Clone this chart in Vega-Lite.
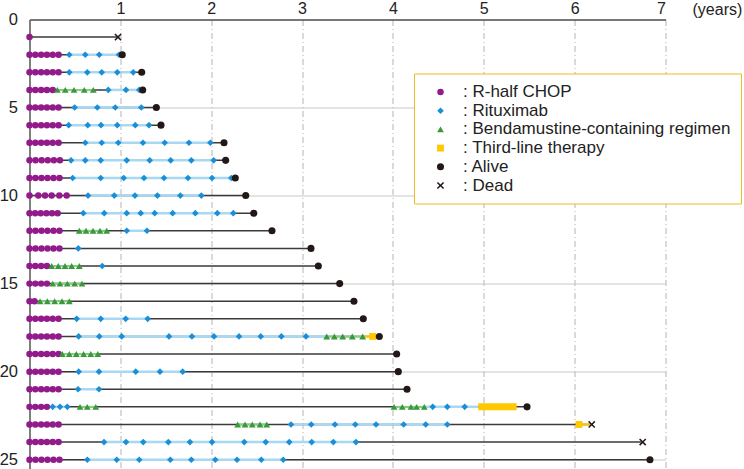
{
  "$schema": "https://vega.github.io/schema/vega-lite/v6.json",
  "width": 636,
  "height": 449,
  "autosize": "none",
  "padding": {"left": 29.5, "top": 19.5, "right": 78.5, "bottom": 0.5},
  "background": "white",
  "config": {"view": {"stroke": null}, "font": "Liberation Sans"},
  "datasets": {
    "lines": [
      {"p": 1, "t": 0, "t2": 0.974}, {"p": 2, "t": 0, "t2": 1.021}, {"p": 3, "t": 0, "t2": 1.235},
      {"p": 4, "t": 0, "t2": 1.246}, {"p": 5, "t": 0, "t2": 1.396}, {"p": 6, "t": 0, "t2": 1.447},
      {"p": 7, "t": 0, "t2": 2.141}, {"p": 8, "t": 0, "t2": 2.159}, {"p": 9, "t": 0, "t2": 2.265},
      {"p": 10, "t": 0, "t2": 2.38}, {"p": 11, "t": 0, "t2": 2.468}, {"p": 12, "t": 0, "t2": 2.669},
      {"p": 13, "t": 0, "t2": 3.098}, {"p": 14, "t": 0, "t2": 3.179}, {"p": 15, "t": 0, "t2": 3.414},
      {"p": 16, "t": 0, "t2": 3.571}, {"p": 17, "t": 0, "t2": 3.674}, {"p": 18, "t": 0, "t2": 3.85},
      {"p": 19, "t": 0, "t2": 4.041}, {"p": 20, "t": 0, "t2": 4.059}, {"p": 21, "t": 0, "t2": 4.155},
      {"p": 22, "t": 0, "t2": 5.476}, {"p": 23, "t": 0, "t2": 6.188}, {"p": 24, "t": 0, "t2": 6.749},
      {"p": 25, "t": 0, "t2": 6.829}
    ],
    "segs": [
      {"p": 2, "t": 0.438, "t2": 0.985, "kind": "rit"}, {"p": 3, "t": 0.438, "t2": 1.142, "kind": "rit"},
      {"p": 4, "t": 0.867, "t2": 1.208, "kind": "rit"}, {"p": 5, "t": 0.497, "t2": 1.23, "kind": "rit"},
      {"p": 6, "t": 0.431, "t2": 1.315, "kind": "rit"}, {"p": 7, "t": 0.614, "t2": 1.99, "kind": "rit"},
      {"p": 8, "t": 0.457, "t2": 2.027, "kind": "rit"}, {"p": 9, "t": 0.475, "t2": 2.221, "kind": "rit"},
      {"p": 10, "t": 0.644, "t2": 1.891, "kind": "rit"}, {"p": 11, "t": 0.592, "t2": 2.243, "kind": "rit"},
      {"p": 12, "t": 1.07, "t2": 1.293, "kind": "rit"}, {"p": 17, "t": 0.519, "t2": 1.301, "kind": "rit"},
      {"p": 18, "t": 0.541, "t2": 3.271, "kind": "rit"}, {"p": 20, "t": 0.541, "t2": 1.686, "kind": "rit"},
      {"p": 21, "t": 0.534, "t2": 0.765, "kind": "rit"}, {"p": 22, "t": 0.255, "t2": 0.416, "kind": "rit"},
      {"p": 22, "t": 4.345, "t2": 4.939, "kind": "rit"}, {"p": 23, "t": 2.878, "t2": 4.598, "kind": "rit"},
      {"p": 24, "t": 0.82, "t2": 3.593, "kind": "rit"}, {"p": 25, "t": 0.636, "t2": 2.793, "kind": "rit"},
      {"p": 4, "t": 0.306, "t2": 0.702, "kind": "benda"}, {"p": 12, "t": 0.548, "t2": 0.85, "kind": "benda"},
      {"p": 14, "t": 0.244, "t2": 0.548, "kind": "benda"}, {"p": 15, "t": 0.255, "t2": 0.578, "kind": "benda"},
      {"p": 16, "t": 0.116, "t2": 0.438, "kind": "benda"}, {"p": 18, "t": 3.271, "t2": 3.667, "kind": "benda"},
      {"p": 19, "t": 0.361, "t2": 0.751, "kind": "benda"}, {"p": 22, "t": 0.556, "t2": 0.729, "kind": "benda"},
      {"p": 22, "t": 4.012, "t2": 4.345, "kind": "benda"}, {"p": 23, "t": 2.291, "t2": 2.611, "kind": "benda"},
      {"p": 18, "t": 3.667, "t2": 3.85, "kind": "third"}, {"p": 23, "t": 6.048, "t2": 6.188, "kind": "third"},
      {"p": 22, "t": 4.939, "t2": 5.362, "kind": "thirdbar"}
    ],
    "pts": [
      {"p": 1, "t": 0, "event": "R-half CHOP"}, {"p": 1, "t": 0.974, "event": "Dead"},

      {"p": 2, "t": 0, "event": "R-half CHOP"}, {"p": 2, "t": 0.064, "event": "R-half CHOP"}, {"p": 2, "t": 0.128, "event": "R-half CHOP"}, {"p": 2, "t": 0.192, "event": "R-half CHOP"}, {"p": 2, "t": 0.256, "event": "R-half CHOP"}, {"p": 2, "t": 0.32, "event": "R-half CHOP"},
      {"p": 2, "t": 0.438, "event": "Rituximab"}, {"p": 2, "t": 0.614, "event": "Rituximab"}, {"p": 2, "t": 0.768, "event": "Rituximab"}, {"p": 2, "t": 0.985, "event": "Rituximab"},
      {"p": 2, "t": 1.021, "event": "Alive"},

      {"p": 3, "t": 0, "event": "R-half CHOP"}, {"p": 3, "t": 0.064, "event": "R-half CHOP"}, {"p": 3, "t": 0.128, "event": "R-half CHOP"}, {"p": 3, "t": 0.192, "event": "R-half CHOP"}, {"p": 3, "t": 0.256, "event": "R-half CHOP"}, {"p": 3, "t": 0.32, "event": "R-half CHOP"},
      {"p": 3, "t": 0.438, "event": "Rituximab"}, {"p": 3, "t": 0.636, "event": "Rituximab"}, {"p": 3, "t": 0.795, "event": "Rituximab"}, {"p": 3, "t": 0.966, "event": "Rituximab"}, {"p": 3, "t": 1.142, "event": "Rituximab"},
      {"p": 3, "t": 1.235, "event": "Alive"},

      {"p": 4, "t": 0, "event": "R-half CHOP"}, {"p": 4, "t": 0.064, "event": "R-half CHOP"}, {"p": 4, "t": 0.128, "event": "R-half CHOP"}, {"p": 4, "t": 0.192, "event": "R-half CHOP"}, {"p": 4, "t": 0.256, "event": "R-half CHOP"},
      {"p": 4, "t": 0.306, "event": "Bendamustine-containing regimen"}, {"p": 4, "t": 0.394, "event": "Bendamustine-containing regimen"}, {"p": 4, "t": 0.49, "event": "Bendamustine-containing regimen"}, {"p": 4, "t": 0.603, "event": "Bendamustine-containing regimen"}, {"p": 4, "t": 0.702, "event": "Bendamustine-containing regimen"},
      {"p": 4, "t": 0.867, "event": "Rituximab"}, {"p": 4, "t": 1.062, "event": "Rituximab"}, {"p": 4, "t": 1.208, "event": "Rituximab"},
      {"p": 4, "t": 1.246, "event": "Alive"},

      {"p": 5, "t": 0, "event": "R-half CHOP"}, {"p": 5, "t": 0.064, "event": "R-half CHOP"}, {"p": 5, "t": 0.128, "event": "R-half CHOP"}, {"p": 5, "t": 0.192, "event": "R-half CHOP"}, {"p": 5, "t": 0.256, "event": "R-half CHOP"}, {"p": 5, "t": 0.32, "event": "R-half CHOP"},
      {"p": 5, "t": 0.497, "event": "Rituximab"}, {"p": 5, "t": 0.746, "event": "Rituximab"}, {"p": 5, "t": 0.944, "event": "Rituximab"}, {"p": 5, "t": 1.23, "event": "Rituximab"},
      {"p": 5, "t": 1.396, "event": "Alive"},

      {"p": 6, "t": 0, "event": "R-half CHOP"}, {"p": 6, "t": 0.064, "event": "R-half CHOP"}, {"p": 6, "t": 0.128, "event": "R-half CHOP"}, {"p": 6, "t": 0.192, "event": "R-half CHOP"}, {"p": 6, "t": 0.256, "event": "R-half CHOP"}, {"p": 6, "t": 0.32, "event": "R-half CHOP"},
      {"p": 6, "t": 0.431, "event": "Rituximab"}, {"p": 6, "t": 0.641, "event": "Rituximab"}, {"p": 6, "t": 0.787, "event": "Rituximab"}, {"p": 6, "t": 0.966, "event": "Rituximab"}, {"p": 6, "t": 1.164, "event": "Rituximab"}, {"p": 6, "t": 1.315, "event": "Rituximab"},
      {"p": 6, "t": 1.447, "event": "Alive"},

      {"p": 7, "t": 0, "event": "R-half CHOP"}, {"p": 7, "t": 0.064, "event": "R-half CHOP"}, {"p": 7, "t": 0.128, "event": "R-half CHOP"}, {"p": 7, "t": 0.192, "event": "R-half CHOP"}, {"p": 7, "t": 0.256, "event": "R-half CHOP"}, {"p": 7, "t": 0.32, "event": "R-half CHOP"},
      {"p": 7, "t": 0.614, "event": "Rituximab"}, {"p": 7, "t": 0.795, "event": "Rituximab"}, {"p": 7, "t": 0.977, "event": "Rituximab"}, {"p": 7, "t": 1.249, "event": "Rituximab"}, {"p": 7, "t": 1.488, "event": "Rituximab"}, {"p": 7, "t": 1.755, "event": "Rituximab"}, {"p": 7, "t": 1.99, "event": "Rituximab"},
      {"p": 7, "t": 2.141, "event": "Alive"},

      {"p": 8, "t": 0, "event": "R-half CHOP"}, {"p": 8, "t": 0.067, "event": "R-half CHOP"}, {"p": 8, "t": 0.134, "event": "R-half CHOP"}, {"p": 8, "t": 0.201, "event": "R-half CHOP"}, {"p": 8, "t": 0.268, "event": "R-half CHOP"}, {"p": 8, "t": 0.335, "event": "R-half CHOP"},
      {"p": 8, "t": 0.457, "event": "Rituximab"}, {"p": 8, "t": 0.614, "event": "Rituximab"}, {"p": 8, "t": 0.784, "event": "Rituximab"}, {"p": 8, "t": 1.07, "event": "Rituximab"}, {"p": 8, "t": 1.323, "event": "Rituximab"}, {"p": 8, "t": 1.554, "event": "Rituximab"}, {"p": 8, "t": 1.781, "event": "Rituximab"}, {"p": 8, "t": 2.027, "event": "Rituximab"},
      {"p": 8, "t": 2.159, "event": "Alive"},

      {"p": 9, "t": 0, "event": "R-half CHOP"}, {"p": 9, "t": 0.066, "event": "R-half CHOP"}, {"p": 9, "t": 0.132, "event": "R-half CHOP"}, {"p": 9, "t": 0.198, "event": "R-half CHOP"}, {"p": 9, "t": 0.264, "event": "R-half CHOP"}, {"p": 9, "t": 0.33, "event": "R-half CHOP"},
      {"p": 9, "t": 0.475, "event": "Rituximab"}, {"p": 9, "t": 0.784, "event": "Rituximab"}, {"p": 9, "t": 1.037, "event": "Rituximab"}, {"p": 9, "t": 1.26, "event": "Rituximab"}, {"p": 9, "t": 1.48, "event": "Rituximab"}, {"p": 9, "t": 1.744, "event": "Rituximab"}, {"p": 9, "t": 2.009, "event": "Rituximab"}, {"p": 9, "t": 2.221, "event": "Rituximab"},
      {"p": 9, "t": 2.265, "event": "Alive"},

      {"p": 10, "t": 0, "event": "R-half CHOP"}, {"p": 10, "t": 0.097, "event": "R-half CHOP"}, {"p": 10, "t": 0.171, "event": "R-half CHOP"}, {"p": 10, "t": 0.244, "event": "R-half CHOP"}, {"p": 10, "t": 0.328, "event": "R-half CHOP"}, {"p": 10, "t": 0.409, "event": "R-half CHOP"},
      {"p": 10, "t": 0.644, "event": "Rituximab"}, {"p": 10, "t": 0.933, "event": "Rituximab"}, {"p": 10, "t": 1.161, "event": "Rituximab"}, {"p": 10, "t": 1.407, "event": "Rituximab"}, {"p": 10, "t": 1.66, "event": "Rituximab"}, {"p": 10, "t": 1.891, "event": "Rituximab"},
      {"p": 10, "t": 2.38, "event": "Alive"},

      {"p": 11, "t": 0, "event": "R-half CHOP"}, {"p": 11, "t": 0.062, "event": "R-half CHOP"}, {"p": 11, "t": 0.124, "event": "R-half CHOP"}, {"p": 11, "t": 0.186, "event": "R-half CHOP"}, {"p": 11, "t": 0.248, "event": "R-half CHOP"}, {"p": 11, "t": 0.31, "event": "R-half CHOP"},
      {"p": 11, "t": 0.592, "event": "Rituximab"}, {"p": 11, "t": 0.823, "event": "Rituximab"}, {"p": 11, "t": 1.07, "event": "Rituximab"}, {"p": 11, "t": 1.224, "event": "Rituximab"}, {"p": 11, "t": 1.378, "event": "Rituximab"}, {"p": 11, "t": 1.576, "event": "Rituximab"}, {"p": 11, "t": 1.825, "event": "Rituximab"}, {"p": 11, "t": 2.067, "event": "Rituximab"}, {"p": 11, "t": 2.243, "event": "Rituximab"},
      {"p": 11, "t": 2.468, "event": "Alive"},

      {"p": 12, "t": 0, "event": "R-half CHOP"}, {"p": 12, "t": 0.066, "event": "R-half CHOP"}, {"p": 12, "t": 0.132, "event": "R-half CHOP"}, {"p": 12, "t": 0.198, "event": "R-half CHOP"}, {"p": 12, "t": 0.264, "event": "R-half CHOP"}, {"p": 12, "t": 0.33, "event": "R-half CHOP"},
      {"p": 12, "t": 0.548, "event": "Bendamustine-containing regimen"}, {"p": 12, "t": 0.622, "event": "Bendamustine-containing regimen"}, {"p": 12, "t": 0.699, "event": "Bendamustine-containing regimen"}, {"p": 12, "t": 0.776, "event": "Bendamustine-containing regimen"}, {"p": 12, "t": 0.85, "event": "Bendamustine-containing regimen"},
      {"p": 12, "t": 1.07, "event": "Rituximab"}, {"p": 12, "t": 1.293, "event": "Rituximab"},
      {"p": 12, "t": 2.669, "event": "Alive"},

      {"p": 13, "t": 0, "event": "R-half CHOP"}, {"p": 13, "t": 0.066, "event": "R-half CHOP"}, {"p": 13, "t": 0.132, "event": "R-half CHOP"}, {"p": 13, "t": 0.198, "event": "R-half CHOP"}, {"p": 13, "t": 0.264, "event": "R-half CHOP"}, {"p": 13, "t": 0.33, "event": "R-half CHOP"},
      {"p": 13, "t": 0.537, "event": "Rituximab"},
      {"p": 13, "t": 3.098, "event": "Alive"},

      {"p": 14, "t": 0, "event": "R-half CHOP"}, {"p": 14, "t": 0.064, "event": "R-half CHOP"}, {"p": 14, "t": 0.128, "event": "R-half CHOP"}, {"p": 14, "t": 0.192, "event": "R-half CHOP"},
      {"p": 14, "t": 0.244, "event": "Bendamustine-containing regimen"}, {"p": 14, "t": 0.317, "event": "Bendamustine-containing regimen"}, {"p": 14, "t": 0.391, "event": "Bendamustine-containing regimen"}, {"p": 14, "t": 0.464, "event": "Bendamustine-containing regimen"}, {"p": 14, "t": 0.548, "event": "Bendamustine-containing regimen"},
      {"p": 14, "t": 0.801, "event": "Rituximab"},
      {"p": 14, "t": 3.179, "event": "Alive"},

      {"p": 15, "t": 0, "event": "R-half CHOP"}, {"p": 15, "t": 0.064, "event": "R-half CHOP"}, {"p": 15, "t": 0.128, "event": "R-half CHOP"}, {"p": 15, "t": 0.192, "event": "R-half CHOP"},
      {"p": 15, "t": 0.255, "event": "Bendamustine-containing regimen"}, {"p": 15, "t": 0.336, "event": "Bendamustine-containing regimen"}, {"p": 15, "t": 0.416, "event": "Bendamustine-containing regimen"}, {"p": 15, "t": 0.497, "event": "Bendamustine-containing regimen"}, {"p": 15, "t": 0.578, "event": "Bendamustine-containing regimen"},
      {"p": 15, "t": 3.414, "event": "Alive"},

      {"p": 16, "t": 0, "event": "R-half CHOP"}, {"p": 16, "t": 0.055, "event": "R-half CHOP"},
      {"p": 16, "t": 0.116, "event": "Bendamustine-containing regimen"}, {"p": 16, "t": 0.196, "event": "Bendamustine-containing regimen"}, {"p": 16, "t": 0.277, "event": "Bendamustine-containing regimen"}, {"p": 16, "t": 0.358, "event": "Bendamustine-containing regimen"}, {"p": 16, "t": 0.438, "event": "Bendamustine-containing regimen"},
      {"p": 16, "t": 3.571, "event": "Alive"},

      {"p": 17, "t": 0, "event": "R-half CHOP"}, {"p": 17, "t": 0.064, "event": "R-half CHOP"}, {"p": 17, "t": 0.128, "event": "R-half CHOP"}, {"p": 17, "t": 0.192, "event": "R-half CHOP"}, {"p": 17, "t": 0.256, "event": "R-half CHOP"}, {"p": 17, "t": 0.32, "event": "R-half CHOP"},
      {"p": 17, "t": 0.519, "event": "Rituximab"}, {"p": 17, "t": 0.784, "event": "Rituximab"}, {"p": 17, "t": 1.059, "event": "Rituximab"}, {"p": 17, "t": 1.301, "event": "Rituximab"},
      {"p": 17, "t": 3.674, "event": "Alive"},

      {"p": 18, "t": 0, "event": "R-half CHOP"}, {"p": 18, "t": 0.064, "event": "R-half CHOP"}, {"p": 18, "t": 0.128, "event": "R-half CHOP"}, {"p": 18, "t": 0.192, "event": "R-half CHOP"}, {"p": 18, "t": 0.256, "event": "R-half CHOP"}, {"p": 18, "t": 0.32, "event": "R-half CHOP"},
      {"p": 18, "t": 0.541, "event": "Rituximab"}, {"p": 18, "t": 0.768, "event": "Rituximab"}, {"p": 18, "t": 1.015, "event": "Rituximab"}, {"p": 18, "t": 1.535, "event": "Rituximab"}, {"p": 18, "t": 1.788, "event": "Rituximab"}, {"p": 18, "t": 2.031, "event": "Rituximab"}, {"p": 18, "t": 2.306, "event": "Rituximab"}, {"p": 18, "t": 2.545, "event": "Rituximab"}, {"p": 18, "t": 2.772, "event": "Rituximab"}, {"p": 18, "t": 3.043, "event": "Rituximab"},
      {"p": 18, "t": 3.271, "event": "Bendamustine-containing regimen"}, {"p": 18, "t": 3.355, "event": "Bendamustine-containing regimen"}, {"p": 18, "t": 3.447, "event": "Bendamustine-containing regimen"}, {"p": 18, "t": 3.553, "event": "Bendamustine-containing regimen"}, {"p": 18, "t": 3.667, "event": "Bendamustine-containing regimen"},
      {"p": 18, "t": 3.777, "event": "Third-line therapy"},
      {"p": 18, "t": 3.85, "event": "Alive"},

      {"p": 19, "t": 0, "event": "R-half CHOP"}, {"p": 19, "t": 0.064, "event": "R-half CHOP"}, {"p": 19, "t": 0.128, "event": "R-half CHOP"}, {"p": 19, "t": 0.192, "event": "R-half CHOP"}, {"p": 19, "t": 0.256, "event": "R-half CHOP"}, {"p": 19, "t": 0.32, "event": "R-half CHOP"},
      {"p": 19, "t": 0.361, "event": "Bendamustine-containing regimen"}, {"p": 19, "t": 0.438, "event": "Bendamustine-containing regimen"}, {"p": 19, "t": 0.515, "event": "Bendamustine-containing regimen"}, {"p": 19, "t": 0.596, "event": "Bendamustine-containing regimen"}, {"p": 19, "t": 0.674, "event": "Bendamustine-containing regimen"}, {"p": 19, "t": 0.751, "event": "Bendamustine-containing regimen"},
      {"p": 19, "t": 4.041, "event": "Alive"},

      {"p": 20, "t": 0, "event": "R-half CHOP"}, {"p": 20, "t": 0.064, "event": "R-half CHOP"}, {"p": 20, "t": 0.128, "event": "R-half CHOP"}, {"p": 20, "t": 0.192, "event": "R-half CHOP"}, {"p": 20, "t": 0.256, "event": "R-half CHOP"}, {"p": 20, "t": 0.32, "event": "R-half CHOP"},
      {"p": 20, "t": 0.541, "event": "Rituximab"}, {"p": 20, "t": 0.765, "event": "Rituximab"}, {"p": 20, "t": 1.169, "event": "Rituximab"}, {"p": 20, "t": 1.436, "event": "Rituximab"}, {"p": 20, "t": 1.686, "event": "Rituximab"},
      {"p": 20, "t": 4.059, "event": "Alive"},

      {"p": 21, "t": 0, "event": "R-half CHOP"}, {"p": 21, "t": 0.064, "event": "R-half CHOP"}, {"p": 21, "t": 0.128, "event": "R-half CHOP"}, {"p": 21, "t": 0.192, "event": "R-half CHOP"}, {"p": 21, "t": 0.256, "event": "R-half CHOP"}, {"p": 21, "t": 0.32, "event": "R-half CHOP"},
      {"p": 21, "t": 0.534, "event": "Rituximab"}, {"p": 21, "t": 0.765, "event": "Rituximab"},
      {"p": 21, "t": 4.155, "event": "Alive"},

      {"p": 22, "t": 0, "event": "R-half CHOP"}, {"p": 22, "t": 0.064, "event": "R-half CHOP"}, {"p": 22, "t": 0.128, "event": "R-half CHOP"}, {"p": 22, "t": 0.192, "event": "R-half CHOP"},
      {"p": 22, "t": 0.255, "event": "Rituximab"}, {"p": 22, "t": 0.336, "event": "Rituximab"}, {"p": 22, "t": 0.416, "event": "Rituximab"},
      {"p": 22, "t": 0.556, "event": "Bendamustine-containing regimen"}, {"p": 22, "t": 0.636, "event": "Bendamustine-containing regimen"}, {"p": 22, "t": 0.729, "event": "Bendamustine-containing regimen"},
      {"p": 22, "t": 4.012, "event": "Bendamustine-containing regimen"}, {"p": 22, "t": 4.103, "event": "Bendamustine-containing regimen"}, {"p": 22, "t": 4.199, "event": "Bendamustine-containing regimen"}, {"p": 22, "t": 4.261, "event": "Bendamustine-containing regimen"}, {"p": 22, "t": 4.345, "event": "Bendamustine-containing regimen"},
      {"p": 22, "t": 4.438, "event": "Rituximab"}, {"p": 22, "t": 4.598, "event": "Rituximab"}, {"p": 22, "t": 4.79, "event": "Rituximab"},
      {"p": 22, "t": 5.476, "event": "Alive"},

      {"p": 23, "t": 0, "event": "R-half CHOP"}, {"p": 23, "t": 0.064, "event": "R-half CHOP"}, {"p": 23, "t": 0.128, "event": "R-half CHOP"}, {"p": 23, "t": 0.192, "event": "R-half CHOP"}, {"p": 23, "t": 0.256, "event": "R-half CHOP"}, {"p": 23, "t": 0.32, "event": "R-half CHOP"},
      {"p": 23, "t": 2.291, "event": "Bendamustine-containing regimen"}, {"p": 23, "t": 2.372, "event": "Bendamustine-containing regimen"}, {"p": 23, "t": 2.452, "event": "Bendamustine-containing regimen"}, {"p": 23, "t": 2.537, "event": "Bendamustine-containing regimen"}, {"p": 23, "t": 2.611, "event": "Bendamustine-containing regimen"},
      {"p": 23, "t": 2.878, "event": "Rituximab"}, {"p": 23, "t": 3.101, "event": "Rituximab"}, {"p": 23, "t": 3.362, "event": "Rituximab"}, {"p": 23, "t": 3.586, "event": "Rituximab"}, {"p": 23, "t": 3.814, "event": "Rituximab"}, {"p": 23, "t": 4.118, "event": "Rituximab"}, {"p": 23, "t": 4.361, "event": "Rituximab"}, {"p": 23, "t": 4.598, "event": "Rituximab"},
      {"p": 23, "t": 6.048, "event": "Third-line therapy"},
      {"p": 23, "t": 6.188, "event": "Dead"},

      {"p": 24, "t": 0, "event": "R-half CHOP"}, {"p": 24, "t": 0.064, "event": "R-half CHOP"}, {"p": 24, "t": 0.128, "event": "R-half CHOP"}, {"p": 24, "t": 0.192, "event": "R-half CHOP"}, {"p": 24, "t": 0.256, "event": "R-half CHOP"}, {"p": 24, "t": 0.32, "event": "R-half CHOP"},
      {"p": 24, "t": 0.82, "event": "Rituximab"}, {"p": 24, "t": 1.062, "event": "Rituximab"}, {"p": 24, "t": 1.252, "event": "Rituximab"}, {"p": 24, "t": 1.528, "event": "Rituximab"}, {"p": 24, "t": 1.766, "event": "Rituximab"}, {"p": 24, "t": 2.009, "event": "Rituximab"}, {"p": 24, "t": 2.364, "event": "Rituximab"}, {"p": 24, "t": 2.6, "event": "Rituximab"}, {"p": 24, "t": 2.859, "event": "Rituximab"}, {"p": 24, "t": 3.106, "event": "Rituximab"}, {"p": 24, "t": 3.344, "event": "Rituximab"}, {"p": 24, "t": 3.593, "event": "Rituximab"},
      {"p": 24, "t": 6.749, "event": "Dead"},

      {"p": 25, "t": 0, "event": "R-half CHOP"}, {"p": 25, "t": 0.066, "event": "R-half CHOP"}, {"p": 25, "t": 0.132, "event": "R-half CHOP"}, {"p": 25, "t": 0.198, "event": "R-half CHOP"}, {"p": 25, "t": 0.264, "event": "R-half CHOP"}, {"p": 25, "t": 0.33, "event": "R-half CHOP"},
      {"p": 25, "t": 0.636, "event": "Rituximab"}, {"p": 25, "t": 0.96, "event": "Rituximab"}, {"p": 25, "t": 1.208, "event": "Rituximab"}, {"p": 25, "t": 1.55, "event": "Rituximab"}, {"p": 25, "t": 1.781, "event": "Rituximab"}, {"p": 25, "t": 2.045, "event": "Rituximab"}, {"p": 25, "t": 2.284, "event": "Rituximab"}, {"p": 25, "t": 2.551, "event": "Rituximab"}, {"p": 25, "t": 2.793, "event": "Rituximab"},
      {"p": 25, "t": 6.829, "event": "Alive"}
    ]
  },
  "encoding": {
    "x": {
      "field": "t", "type": "quantitative",
      "scale": {"domain": [0, 7], "nice": false, "zero": false},
      "axis": {
        "orient": "top", "values": [1, 2, 3, 4, 5, 6, 7], "ticks": false,
        "domainColor": "#555555", "domainWidth": 1.5,
        "labelFont": "Liberation Sans", "labelFontSize": 16, "labelPadding": 3, "labelColor": "#222222",
        "grid": true, "gridColor": "#b4b4b4", "gridDash": [6, 3, 1, 3], "gridWidth": 1,
        "title": "(years)", "titleFont": "Liberation Sans", "titleFontWeight": "normal", "titleFontSize": 16,
        "titleColor": "#222222", "titleX": 662.5, "titleY": -10, "titleAlign": "left",
        "titleBaseline": "middle", "titleAngle": 0
      }
    },
    "y": {
      "field": "p", "type": "quantitative",
      "scale": {"domain": [0, 25.5], "reverse": true, "nice": false, "zero": false},
      "axis": {
        "orient": "left", "values": [0, 5, 10, 15, 20, 25], "ticks": false,
        "domainColor": "#555555", "domainWidth": 1.5,
        "labelFont": "Liberation Sans", "labelFontSize": 16.5, "labelPadding": 12, "labelColor": "#222222",
        "grid": true, "gridColor": "#c8c8c8", "gridWidth": 1, "title": null
      }
    }
  },
  "layer": [
    {
      "data": {"name": "lines"},
      "mark": {"type": "rule", "color": "#3a3a3a", "strokeWidth": 1.5},
      "encoding": {"x2": {"field": "t2"}}
    },
    {
      "data": {"name": "segs"},
      "transform": [{"filter": "datum.kind == 'rit'"}],
      "mark": {"type": "rule", "color": "#a8d8f2", "strokeWidth": 2.5},
      "encoding": {"x2": {"field": "t2"}}
    },
    {
      "data": {"name": "segs"},
      "transform": [{"filter": "datum.kind == 'benda'"}],
      "mark": {"type": "rule", "color": "#8cc98c", "strokeWidth": 2},
      "encoding": {"x2": {"field": "t2"}}
    },
    {
      "data": {"name": "segs"},
      "transform": [{"filter": "datum.kind == 'third'"}],
      "mark": {"type": "rule", "color": "#f7c600", "strokeWidth": 2},
      "encoding": {"x2": {"field": "t2"}}
    },
    {
      "data": {"name": "segs"},
      "transform": [{"filter": "datum.kind == 'thirdbar'"}],
      "mark": {"type": "rule", "color": "#ffc800", "strokeWidth": 7, "strokeCap": "butt"},
      "encoding": {"x2": {"field": "t2"}}
    },
    {
      "data": {"name": "pts"},
      "mark": {"type": "point", "filled": true, "opacity": 1, "strokeWidth": 0},
      "encoding": {
        "shape": {
          "field": "event", "type": "nominal",
          "scale": {
            "domain": ["R-half CHOP", "Rituximab", "Bendamustine-containing regimen", "Third-line therapy", "Alive", "Dead"],
            "range": ["circle", "diamond", "triangle-up", "square", "circle", "M-1,-0.7L-0.7,-1L0,-0.3L0.7,-1L1,-0.7L0.3,0L1,0.7L0.7,1L0,0.3L-0.7,1L-1,0.7L-0.3,0Z"]
          },
          "legend": {
            "title": null, "orient": "none", "legendX": 384.5, "legendY": 54, "padding": 10,
            "fillColor": "white", "strokeColor": "#ebbd1e",
            "labelFont": "Liberation Sans", "labelFontSize": 17, "labelColor": "#222222", "labelLimit": 400,
            "labelExpr": "': ' + datum.label", "symbolSize": 50, "symbolOffset": 8, "labelOffset": 14,
            "rowPadding": 0.7, "symbolStrokeWidth": 0
          }
        },
        "color": {
          "field": "event", "type": "nominal",
          "scale": {
            "domain": ["R-half CHOP", "Rituximab", "Bendamustine-containing regimen", "Third-line therapy", "Alive", "Dead"],
            "range": ["#921a8a", "#1a8fd8", "#3a9a3a", "#ffc800", "#231815", "#231815"]
          },
          "legend": {
            "title": null, "orient": "none", "legendX": 384.5, "legendY": 54, "padding": 10,
            "fillColor": "white", "strokeColor": "#ebbd1e",
            "labelFont": "Liberation Sans", "labelFontSize": 17, "labelColor": "#222222", "labelLimit": 400,
            "labelExpr": "': ' + datum.label", "symbolSize": 50, "symbolOffset": 8, "labelOffset": 14,
            "rowPadding": 0.7, "symbolStrokeWidth": 0
          }
        },
        "size": {
          "field": "event", "type": "nominal",
          "scale": {
            "domain": ["R-half CHOP", "Rituximab", "Bendamustine-containing regimen", "Third-line therapy", "Alive", "Dead"],
            "range": [42, 52, 48, 42, 58, 26]
          },
          "legend": null
        }
      }
    }
  ]
}
